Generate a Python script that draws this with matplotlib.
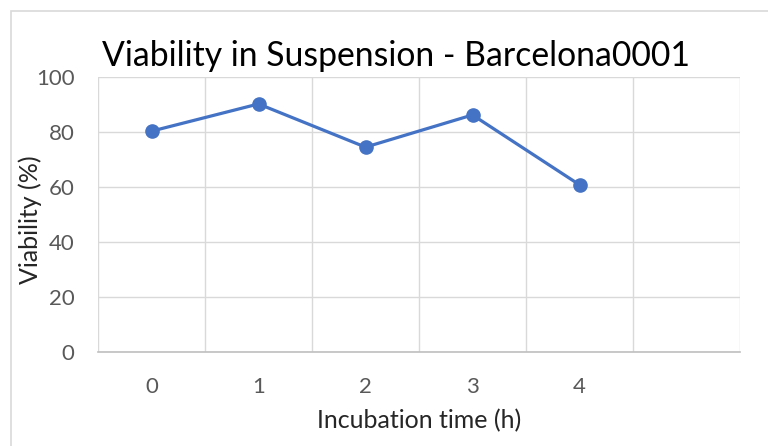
import matplotlib.pyplot as plt
from matplotlib.patches import Rectangle

hours = [0, 1, 2, 3, 4]
viability = [80.3, 90.2, 74.5, 86.2, 60.8]
n_slots = 6  # excel category axis has one empty slot on the right
y_ticks = [0, 20, 40, 60, 80, 100]

plt.rcParams['font.family'] = ['Lato', 'DejaVu Sans']

fig = plt.figure(figsize=(7.68, 4.46), dpi=100)
# outer chart border
fig.patches.append(Rectangle((11 / 768, -0.1), 1.2, 1 - 11 / 446 + 0.1, transform=fig.transFigure,
                             fill=False, edgecolor='#d9d9d9', linewidth=1.2))

ax = fig.add_axes([98 / 768, 1 - 352 / 446, (740 - 98) / 768, (352 - 77) / 446])

x = list(range(len(hours)))
ax.plot(x, viability, color='#4472C4', linewidth=2.3, marker='o', markersize=9.5, zorder=3)

ax.set_xlim(-0.5, n_slots - 0.5)
ax.set_ylim(0, 100)
ax.set_yticks(y_ticks)
ax.set_xticks(x)
ax.set_xticklabels([str(h) for h in hours])
ax.set_xticks([i - 0.5 for i in range(n_slots + 1)], minor=True)

ax.grid(True, which='major', axis='y', color='#d9d9d9', linewidth=1)
ax.grid(True, which='minor', axis='x', color='#d9d9d9', linewidth=1)
ax.set_axisbelow(True)

for side in ['top', 'right', 'left']:
    ax.spines[side].set_visible(False)
ax.spines['bottom'].set_color('#bfbfbf')
ax.spines['bottom'].set_linewidth(1.2)

ax.tick_params(which='both', length=0)
ax.tick_params(axis='x', pad=18, labelsize=16, labelcolor='#595959')
ax.tick_params(axis='y', pad=17, labelsize=16, labelcolor='#595959')

ax.set_title('Viability in Suspension - Barcelona0001', fontsize=24.3, color='#000000',
             loc='left', x=0.006, pad=8)
ax.set_xlabel('Incubation time (h)', fontsize=18, color='#262626', va='center')
ax.set_ylabel('Viability (%)', fontsize=18, color='#262626', va='center')
ax.xaxis.set_label_coords(0.5, -0.248)
ax.yaxis.set_label_coords(-0.106, 0.48)

fig.savefig('out.png', dpi=100)
